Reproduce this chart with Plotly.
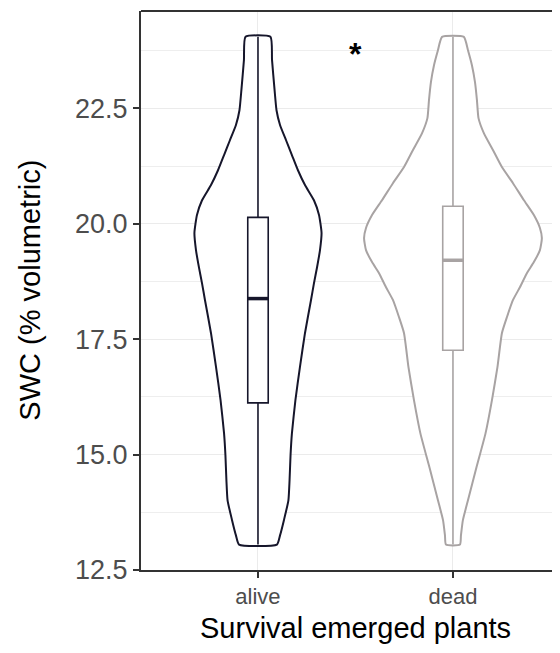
import plotly.graph_objects as go

# ---- data ----
groups = ["alive", "dead"]
positions = [1, 2]
colors = ["#16162B", "#A8A3A3"]

# violin outline profiles: SWC value and half-width (density, in category units)
alive_y = [24.05, 23.55, 22.90, 22.46, 22.14, 21.81, 21.49, 21.16, 20.84, 20.51,
           20.19, 19.80, 19.43, 19.06, 18.71, 18.35, 17.63, 16.89, 16.18, 15.46,
           14.99, 14.45, 14.01, 13.58, 13.25, 13.05]
alive_w = [0.064, 0.072, 0.085, 0.095, 0.113, 0.144, 0.174, 0.205, 0.241, 0.287,
           0.313, 0.326, 0.318, 0.303, 0.287, 0.272, 0.241, 0.215, 0.192, 0.174,
           0.167, 0.162, 0.156, 0.133, 0.113, 0.097]

dead_y = [24.05, 23.76, 23.44, 23.07, 22.68, 22.29, 21.96, 21.60, 21.23, 20.88,
          20.51, 20.19, 19.91, 19.69, 19.43, 19.17, 18.93, 18.63, 18.35, 17.98,
          17.63, 16.89, 16.18, 15.46, 14.73, 14.01, 13.58, 13.25, 13.05]
dead_w = [0.056, 0.077, 0.097, 0.113, 0.123, 0.131, 0.159, 0.205, 0.251, 0.308,
          0.364, 0.415, 0.446, 0.456, 0.446, 0.415, 0.379, 0.344, 0.308, 0.277,
          0.251, 0.228, 0.200, 0.167, 0.121, 0.077, 0.051, 0.041, 0.036]

# box statistics
q1 = [16.12, 17.26]
median = [18.38, 19.21]
q3 = [20.14, 20.38]
lower = [13.05, 13.05]
upper = [24.05, 24.05]

y_ticks = [12.5, 15.0, 17.5, 20.0, 22.5]
y_tick_labels = ["12.5", "15.0", "17.5", "20.0", "22.5"]
star_text = "<b>*</b>"
star_pos = (1.5, 23.68)

x_range = [0.4, 2.549]
y_range = [12.5, 24.61]
box_width = 0.105

fig = go.Figure()

# violins (white-filled outlines) on the base axes
profiles = [(alive_y, alive_w), (dead_y, dead_w)]
for pos, col, (ys, ws) in zip(positions, colors, profiles):
    xs = [pos - w for w in ws] + [pos + w for w in reversed(ws)] + [pos - ws[0]]
    yy = list(ys) + list(reversed(ys)) + [ys[0]]
    fig.add_trace(go.Scatter(
        x=xs, y=yy, mode="lines", fill="toself", fillcolor="white",
        line=dict(color=col, width=2, shape="spline", smoothing=0.5),
        hoverinfo="skip", showlegend=False, xaxis="x", yaxis="y"))

# boxplots on overlaying axes so they are drawn above the violin fill
for i, (pos, col) in enumerate(zip(positions, colors)):
    fig.add_trace(go.Box(
        x=[pos], q1=[q1[i]], median=[median[i]], q3=[q3[i]],
        lowerfence=[lower[i]], upperfence=[upper[i]],
        orientation="v", width=box_width, fillcolor="white",
        line=dict(color=col, width=1.6), whiskerwidth=0,
        boxpoints=False, showlegend=False, hoverinfo="skip",
        xaxis="x2", yaxis="y2"))
    # thicker median line like ggplot (fatten)
    fig.add_trace(go.Scatter(
        x=[pos - box_width / 2, pos + box_width / 2], y=[median[i], median[i]],
        mode="lines", line=dict(color=col, width=3.5),
        hoverinfo="skip", showlegend=False, xaxis="x2", yaxis="y2"))

fig.add_annotation(x=star_pos[0], y=star_pos[1], text=star_text, showarrow=False,
                   font=dict(family="Liberation Sans, Arial", size=32, color="black"))

fig.add_annotation(xref="paper", yref="paper", x=0.511, y=-0.103,
                   text="Survival emerged plants", showarrow=False,
                   xanchor="center", yanchor="middle",
                   font=dict(family="Liberation Sans, Arial", size=29, color="black"))
fig.add_annotation(xref="paper", yref="paper", x=-0.267, y=0.5,
                   text="SWC (% volumetric)", showarrow=False, textangle=-90,
                   xanchor="center", yanchor="middle",
                   font=dict(family="Liberation Sans, Arial", size=29, color="black"))

fig.add_shape(type="line", xref="paper", yref="paper", x0=0, x1=1, y0=1, y1=1,
              line=dict(color="#333333", width=2))

# page body has an 8px default margin, so the figure is shifted by 8px
fig.update_layout(
    template="none",
    width=552, height=645,
    margin=dict(l=133, r=0, t=3, b=83, autoexpand=False),
    paper_bgcolor="white", plot_bgcolor="white",
    font=dict(family="Liberation Sans, Arial"),
    xaxis=dict(range=x_range, tickmode="array", tickvals=positions,
               ticktext=groups, showgrid=True, gridcolor="#EBEBEB", gridwidth=1.2,
               zeroline=False, showline=True, linecolor="#333333", linewidth=2,
               ticks="outside", ticklen=6, tickwidth=1.5, tickcolor="#333333",
               tickfont=dict(size=22, color="#4D4D4D"), automargin=False),
    yaxis=dict(range=y_range, tickmode="array", tickvals=y_ticks,
               ticktext=y_tick_labels, showgrid=True, gridcolor="#EBEBEB",
               gridwidth=1.2, zeroline=False, showline=True, linecolor="#333333",
               linewidth=2, ticks="outside", ticklen=6, tickwidth=1.5,
               tickcolor="#333333", tickfont=dict(size=27, color="#4D4D4D"),
               automargin=False,
               minor=dict(tick0=12.5, dtick=1.25, showgrid=True,
                          gridcolor="#EEEEEE", gridwidth=0.7, ticks="")),
    xaxis2=dict(range=x_range, overlaying="x", visible=False, showgrid=False,
                zeroline=False, automargin=False),
    yaxis2=dict(range=y_range, overlaying="y", visible=False, showgrid=False,
                zeroline=False, automargin=False),
)

fig.write_html("out.html")
